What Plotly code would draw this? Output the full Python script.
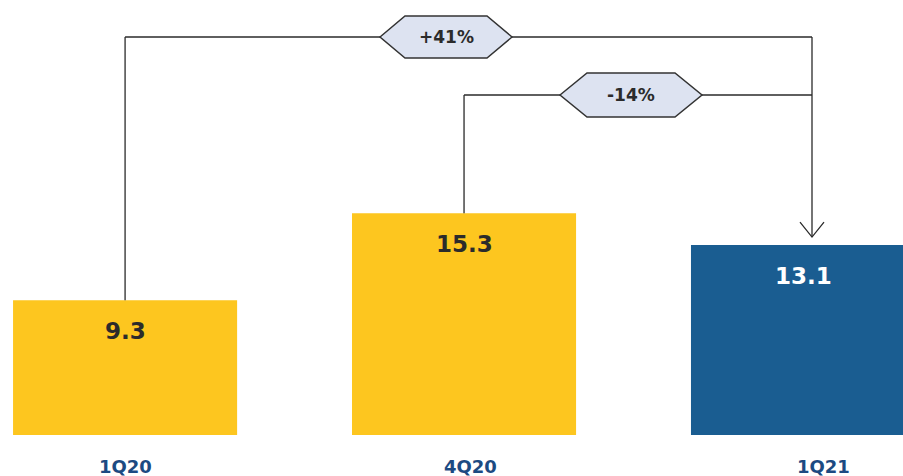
import plotly.graph_objects as go

# ---- data ----
categories = ["1Q20", "4Q20", "1Q21"]
values = [9.3, 15.3, 13.1]
value_labels = ["9.3", "15.3", "13.1"]
growth_labels = ["+41%", "-14%"]

# ---- style ----
bar_colors = ["#fdc61f", "#fdc61f", "#1a5d91"]
value_colors = ["#2b2b2b", "#2b2b2b", "#ffffff"]
label_color = "#1c4a82"
label_shift = [0, 6, 20]
FONT = "DejaVu Sans"

W, H = 903, 476
B = 41
X_MIN, X_MAX = -0.369, 2.295
Y_MAX = 30.0
PX_PER_X = W / (X_MAX - X_MIN)
PX_PER_Y = (H - B) / Y_MAX


def dx(px):
    return X_MIN + px / PX_PER_X


def dy(py):
    return (H - B - py) / PX_PER_Y


fig = go.Figure()
fig.add_trace(go.Bar(
    x=categories, y=values, width=0.661,
    marker=dict(color=bar_colors, line=dict(width=0)),
    hoverinfo="skip",
))

shapes = []
annotations = []
line_style = dict(color="#2a2a2a", width=1.3)

# connector 1: 1Q20 -> 1Q21
y1 = dy(37)
x_end = dx(812)
tip = values[2] + 8 / PX_PER_Y
shapes.append(dict(type="line", xref="x", yref="y", x0=0, x1=0, y0=values[0], y1=y1, line=line_style))
shapes.append(dict(type="line", xref="x", yref="y", x0=0, x1=x_end, y0=y1, y1=y1, line=line_style))
shapes.append(dict(type="line", xref="x", yref="y", x0=x_end, x1=x_end, y0=y1, y1=tip, line=line_style))
# arrow head (open V)
shapes.append(dict(type="path", xref="x", yref="y",
                   path=f"M {dx(800)},{tip + 15 / PX_PER_Y} L {x_end},{tip} L {dx(824)},{tip + 15 / PX_PER_Y}",
                   line=line_style))

# connector 2: 4Q20 -> 1Q21
y2 = dy(95)
shapes.append(dict(type="line", xref="x", yref="y", x0=1, x1=1, y0=values[1], y1=y2, line=line_style))
shapes.append(dict(type="line", xref="x", yref="y", x0=1, x1=x_end, y0=y2, y1=y2, line=line_style))


def hexagon(xl, xr, yc, half_h, slant):
    pts = [(xl, yc), (xl + slant, yc - half_h), (xr - slant, yc - half_h),
           (xr, yc), (xr - slant, yc + half_h), (xl + slant, yc + half_h)]
    p = "M " + " L ".join(f"{dx(a)},{dy(b)}" for a, b in pts) + " Z"
    return dict(type="path", xref="x", yref="y", path=p,
                fillcolor="#dde3f1", line=dict(color="#333333", width=1.5))


shapes.append(hexagon(380, 512, 37, 21, 25))
shapes.append(hexagon(560, 702, 95, 22, 27))

annotations.append(dict(xref="x", yref="y", x=dx(446), y=dy(37), text=f"<b>{growth_labels[0]}</b>",
                        showarrow=False, font=dict(family=FONT, size=17, color="#2b2b2b")))
annotations.append(dict(xref="x", yref="y", x=dx(631), y=dy(95), text=f"<b>{growth_labels[1]}</b>",
                        showarrow=False, font=dict(family=FONT, size=17, color="#2b2b2b")))

for i, c in enumerate(categories):
    annotations.append(dict(xref="x", yref="y", x=i, y=values[i], yshift=-31, yanchor="middle",
                            text=f"<b>{value_labels[i]}</b>", showarrow=False,
                            font=dict(family=FONT, size=23, color=value_colors[i])))
    annotations.append(dict(xref="x", yref="paper", x=i, y=0, yshift=-31, yanchor="middle",
                            xshift=label_shift[i], text=f"<b>{c}</b>", showarrow=False,
                            font=dict(family=FONT, size=18, color=label_color)))

fig.update_layout(
    width=W, height=H,
    margin=dict(l=0, r=0, t=0, b=B, pad=0),
    paper_bgcolor="white", plot_bgcolor="white",
    showlegend=False,
    xaxis=dict(range=[X_MIN, X_MAX], showticklabels=False, showgrid=False, zeroline=False,
               showline=False, ticks="", fixedrange=True),
    yaxis=dict(range=[0, Y_MAX], visible=False, fixedrange=True),
    shapes=shapes,
    annotations=annotations,
)

fig.write_html(
    "out.html",
    config={"displayModeBar": False},
    post_script="document.body.style.margin='0';document.body.style.overflow='hidden';",
)
